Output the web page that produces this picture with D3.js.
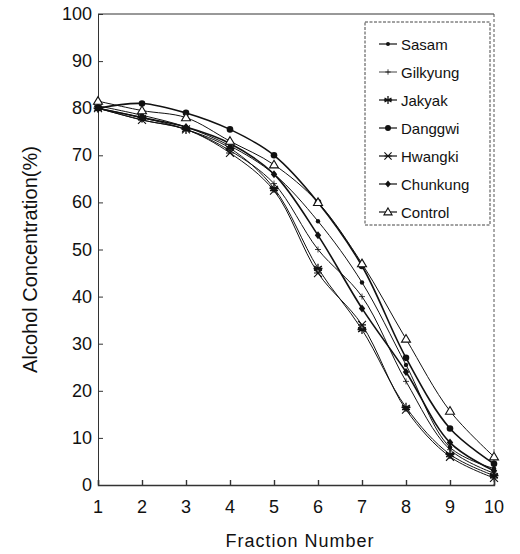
<!DOCTYPE html>
<html lang="en">
  <head>
    <meta charset="UTF-8" />
    <title>Alcohol concentration by fraction</title>
    <style>
      body { margin: 0; background: #fff; }
      .line-path { fill: none; stroke: #111; }
      text { font-family: "Liberation Sans", Arial, sans-serif; fill: #111; }
    </style>
  </head>
  <body>
    <script src="https://d3js.org/d3.v7.min.js"></script>
    <script>
      const fractions = [1, 2, 3, 4, 5, 6, 7, 8, 9, 10];
      const yTicks = [0, 10, 20, 30, 40, 50, 60, 70, 80, 90, 100];

      const sasam = [80.5, 78.5, 76, 72, 66, 56, 43, 25.5, 8, 3.5];
      const gilkyung = [80, 77.5, 75.5, 71, 64, 50, 40, 22, 7.5, 2.5];
      const jakyak = [80, 78, 75.5, 71.5, 63, 46, 33, 16.5, 6.5, 2];
      const danggwi = [80, 81, 79, 75.5, 70, 60, 46.5, 27, 12, 4.5];
      const hwangki = [80, 77.5, 75.5, 70.5, 62.5, 45, 34, 16, 6, 1.5];
      const chunkung = [80, 78, 76, 72.5, 66, 53, 37.5, 24, 9, 3];
      const control = [81.5, 79.5, 78, 73, 68, 60, 47, 31, 15.7, 6];

      const seriesNames = ["Sasam", "Gilkyung", "Jakyak", "Danggwi", "Hwangki", "Chunkung", "Control"];
      const seriesValues = [sasam, gilkyung, jakyak, danggwi, hwangki, chunkung, control];
      const markers = ["dot", "plus", "asterisk", "circle", "cross", "diamond", "triangle"];

      const width = 520;
      const height = 554;
      const margin = { top: 14, right: 26, bottom: 69, left: 98 };

      const svg = d3.select("body")
        .append("svg")
        .attr("width", width)
        .attr("height", height);

      const x = d3.scaleLinear()
        .domain([1, 10])
        .range([margin.left, width - margin.right]);

      const y = d3.scaleLinear()
        .domain([0, 100])
        .range([height - margin.bottom, margin.top]);

      // frame
      svg.append("line")
        .attr("x1", x(1)).attr("x2", x(10))
        .attr("y1", y(100)).attr("y2", y(100))
        .attr("stroke", "#333").attr("stroke-width", 1);
      svg.append("line")
        .attr("x1", x(10)).attr("x2", x(10))
        .attr("y1", y(100)).attr("y2", y(0))
        .attr("stroke", "#555").attr("stroke-width", 1)
        .attr("stroke-dasharray", "3,2");

      const yAxis = d3.axisRight(y).tickValues(yTicks).tickSize(5).tickFormat("");
      svg.append("g")
        .attr("transform", `translate(${x(1)},0)`)
        .call(yAxis)
        .call((g) => g.selectAll("line, path").attr("stroke", "#333"));

      svg.append("g")
        .selectAll("text")
        .data(yTicks)
        .join("text")
        .attr("x", x(1) - 6)
        .attr("y", (d) => y(d) + 6)
        .attr("text-anchor", "end")
        .attr("font-size", 18)
        .text((d) => d);

      const xAxis = d3.axisTop(x).tickValues(fractions).tickSize(5).tickFormat("");
      svg.append("g")
        .attr("transform", `translate(0,${y(0)})`)
        .call(xAxis)
        .call((g) => g.selectAll("line, path").attr("stroke", "#333").attr("stroke-width", 1.4));

      svg.append("g")
        .selectAll("text")
        .data(fractions)
        .join("text")
        .attr("x", (d) => x(d))
        .attr("y", y(0) + 28)
        .attr("text-anchor", "middle")
        .attr("font-size", 18)
        .text((d) => d);

      svg.append("text")
        .attr("x", (x(1) + x(10)) / 2 + 4)
        .attr("y", 547)
        .attr("text-anchor", "middle")
        .attr("font-size", 18)
        .attr("letter-spacing", 1)
        .text("Fraction Number");

      svg.append("text")
        .attr("transform", `translate(37,${(y(0) + y(100)) / 2 + 10}) rotate(-90)`)
        .attr("text-anchor", "middle")
        .attr("font-family", "'Liberation Sans Narrow', 'Liberation Sans', sans-serif")
        .attr("font-size", 20)
        .text("Alcohol Concentration(%)");

      const line = d3.line()
        .x((d, i) => x(fractions[i]))
        .y((d) => y(d))
        .curve(d3.curveCatmullRom.alpha(0.5));

      svg.append("g")
        .selectAll("path")
        .data(seriesValues)
        .join("path")
        .attr("class", "line-path")
        .attr("stroke-width", (d, i) => (markers[i] === "circle" || markers[i] === "diamond" ? 1.6 : 1))
        .attr("d", (d) => line(d));

      function drawMarker(g, type, cx, cy, s) {
        if (type === "dot") {
          g.append("circle").attr("cx", cx).attr("cy", cy).attr("r", 2.2 * s).attr("fill", "#111");
        } else if (type === "circle") {
          g.append("circle").attr("cx", cx).attr("cy", cy).attr("r", 3.3 * s).attr("fill", "#111");
        } else if (type === "plus") {
          g.append("path")
            .attr("d", `M${cx - 3 * s},${cy}h${6 * s}M${cx},${cy - 3 * s}v${6 * s}`)
            .attr("stroke", "#111").attr("stroke-width", 0.8);
        } else if (type === "asterisk") {
          const r = 4.5 * s;
          let d = "";
          for (let k = 0; k < 3; k++) {
            const a = (k * Math.PI) / 3 + Math.PI / 6;
            d += `M${cx - r * Math.cos(a)},${cy - r * Math.sin(a)}L${cx + r * Math.cos(a)},${cy + r * Math.sin(a)}`;
          }
          d += `M${cx - r},${cy}h${2 * r}`;
          g.append("path").attr("d", d).attr("stroke", "#111").attr("stroke-width", 1.3);
        } else if (type === "cross") {
          const r = 4 * s;
          g.append("path")
            .attr("d", `M${cx - r},${cy - r}L${cx + r},${cy + r}M${cx - r},${cy + r}L${cx + r},${cy - r}M${cx - r},${cy}h${2 * r}`)
            .attr("stroke", "#111").attr("stroke-width", 1.1);
        } else if (type === "diamond") {
          const r = 4 * s;
          g.append("path")
            .attr("d", `M${cx},${cy - r}L${cx + r * 0.8},${cy}L${cx},${cy + r}L${cx - r * 0.8},${cy}Z`)
            .attr("fill", "#111");
        } else if (type === "triangle") {
          const r = 4.5 * s;
          g.append("path")
            .attr("d", `M${cx},${cy - r}L${cx + r},${cy + r * 0.7}L${cx - r},${cy + r * 0.7}Z`)
            .attr("fill", "#fff").attr("stroke", "#111").attr("stroke-width", 1.1);
        }
      }

      const markerGroup = svg.append("g");
      seriesValues.forEach((vals, i) => {
        vals.forEach((v, j) => drawMarker(markerGroup, markers[i], x(fractions[j]), y(v), 1));
      });

      // legend
      const legend = svg.append("g");
      legend.append("rect")
        .attr("x", 365).attr("y", 22)
        .attr("width", 125).attr("height", 203)
        .attr("fill", "#fff")
        .attr("stroke", "#444").attr("stroke-width", 1)
        .attr("stroke-dasharray", "3,1.5");

      seriesNames.forEach((name, i) => {
        const ly = 44 + i * 28;
        legend.append("line")
          .attr("x1", 379).attr("x2", 397)
          .attr("y1", ly).attr("y2", ly)
          .attr("stroke", "#111").attr("stroke-width", markers[i] === "plus" ? 0.8 : 1.2);
        drawMarker(legend, markers[i], 388, ly, 0.9);
        legend.append("text")
          .attr("x", 401).attr("y", ly + 6)
          .attr("font-size", 15)
          .text(name);
      });
    </script>
  </body>
</html>
